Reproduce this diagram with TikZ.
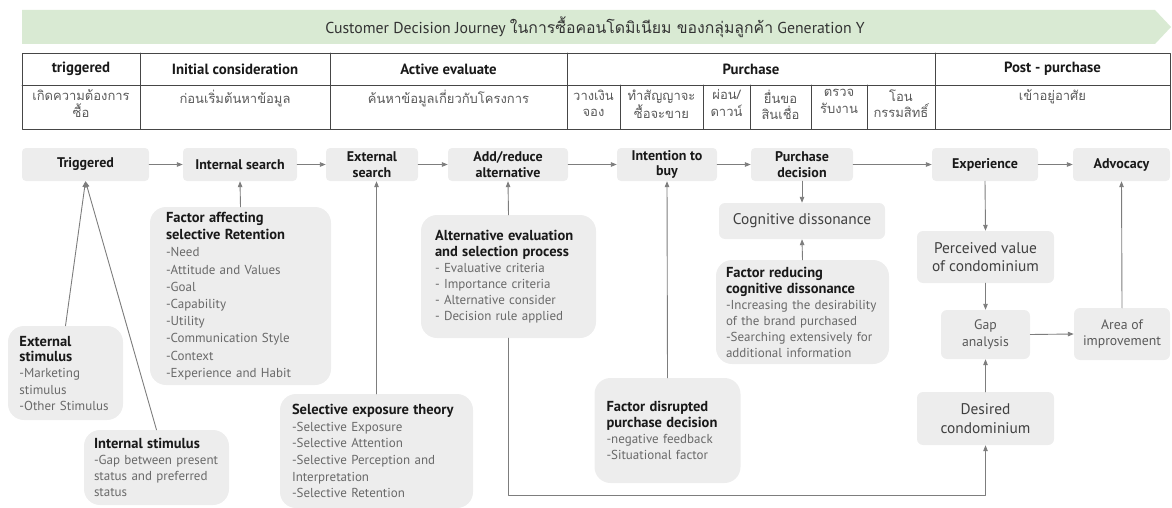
\documentclass[tikz,border=0pt]{standalone}
\usepackage{fontspec}
\setmainfont{PT Sans}
\newfontfamily\thaifont[Script=Thai]{Loma}
\usetikzlibrary{arrows.meta}
\definecolor{bannergreen}{RGB}{217,234,211}
\definecolor{boxgray}{RGB}{237,237,237}
\definecolor{linkgray}{RGB}{125,125,125}
\definecolor{itemgray}{RGB}{105,105,105}
\definecolor{titleblack}{RGB}{25,25,25}
\definecolor{gridgray}{RGB}{70,70,70}
\newcommand{\ttl}[1]{{\fontsize{14.5}{17}\selectfont\bfseries\color{titleblack}#1}}

\begin{document}
\begin{tikzpicture}[x=1pt,y=-1pt,line cap=round,line join=round,
  every node/.style={inner sep=0pt},
  flowbox/.style={fill=boxgray,rounded corners=4pt,minimum height=33pt,align=center,
    font=\fontsize{14}{15.5}\selectfont\bfseries,text=titleblack},
  infobox/.style={fill=boxgray,rounded corners=16pt,align=left,inner xsep=14pt,
    font=\fontsize{13}{16}\selectfont,text=itemgray},
  plainbox/.style={fill=boxgray,rounded corners=6pt,align=center,
    font=\fontsize{15.4}{18.5}\selectfont,text=black!75},
  smallbox/.style={plainbox,font=\fontsize{13.75}{16.5}\selectfont,text=black!65},
  link/.style={draw=linkgray,line width=0.9pt,-{Triangle[length=6pt,width=4.5pt]}},
  head/.style={font=\fontsize{14.8}{16}\selectfont\bfseries,text=titleblack},
  thai/.style={font=\thaifont\fontsize{13}{16.5}\selectfont,text=black!65,align=center,anchor=north}]
  % Banner, phase table, then the journey row with its factor boxes below.
  \useasboundingbox (0,0) rectangle (1172,508);
  \fill[bannergreen] (22,10) -- (1155,10) -- (1171,27) -- (1155,44) -- (22,44) -- cycle;
  \node[font=\fontsize{15.8}{18}\selectfont,text=black!80] (title) at (595,27)
    {Customer Decision Journey {\thaifont ในการซื้อคอนโดมิเนียม ของกลุ่มลูกค้า} Generation Y};

  \draw[gridgray,line width=0.8pt] (22,53) rectangle (1170,129) (22,85) -- (1170,85);
  \foreach \x in {140,330,567,935} \draw[gridgray,line width=0.8pt] (\x,53) -- (\x,129);
  \foreach \x in {620,703,750,811,867} \draw[gridgray,line width=0.8pt] (\x,85) -- (\x,129);
  \node[head] (ph1) at (81,69) {triggered};
  \node[head] (ph2) at (235,69) {Initial consideration};
  \node[head] (ph3) at (448.5,69) {Active evaluate};
  \node[head] (ph4) at (751,69) {Purchase};
  \node[head] (ph5) at (1052.5,69) {Post - purchase};
  \node[thai] (th1) at (81,89.5) {เกิดความต้องการ\\ซื้อ};
  \node[thai] (th2) at (235,89.5) {ก่อนเริ่มต้นหาข้อมูล};
  \node[thai] (th3) at (448.5,89.5) {ค้นหาข้อมูลเกี่ยวกับโครงการ};
  \node[thai] (th4a) at (593.5,89.5) {วางเงิน\\จอง};
  \node[thai] (th4b) at (661.5,89.5) {ทำสัญญาจะ\\ซื้อจะขาย};
  \node[thai] (th4c) at (726.5,89.5) {ผ่อน/\\ดาวน์};
  \node[thai] (th4d) at (780.5,89.5) {ยื่นขอ\\สินเชื่อ};
  \node[thai] (th4e) at (839,89.5) {ตรวจ\\รับงาน};
  \node[thai] (th4f) at (901,89.5) {โอน\\กรรมสิทธิ์};
  \node[thai] (th5) at (1052.5,89.5) {เข้าอยู่อาศัย};

  % journey row
  \node[flowbox,minimum width=127pt] (trig) at (85.5,164.5) {Triggered};
  \node[flowbox,minimum width=114pt] (intsearch) at (240,164.5) {Internal search};
  \node[flowbox,minimum width=92pt] (extsearch) at (372,164.5) {External\\search};
  \node[flowbox,minimum width=120pt] (addalt) at (508,164.5) {Add/reduce\\alternative};
  \node[flowbox,minimum width=100pt] (intent) at (667,164.5) {Intention to\\buy};
  \node[flowbox,minimum width=102pt] (purdec) at (802,164.5) {Purchase\\decision};
  \node[flowbox,minimum width=106pt] (exper) at (985,164.5) {Experience};
  \node[flowbox,minimum width=97pt] (advoc) at (1121.5,164.5) {Advocacy};
  \foreach \a/\b in {trig/intsearch,intsearch/extsearch,extsearch/addalt,addalt/intent,
    intent/purdec,purdec/exper,exper/advoc}
    \draw[link] (\a) -- (\b);

  % factor boxes
  \node[infobox,inner xsep=16pt,text width=149pt,minimum height=178pt,
    font=\fontsize{13}{17.2}\selectfont] (factret) at (240.5,296)
    {\ttl{Factor affecting}\\\ttl{selective Retention}\\-Need\\-Attitude and Values\\-Goal\\
     -Capability\\-Utility\\-Communication Style\\-Context\\-Experience and Habit};
  \node[infobox,inner xsep=11.5pt,text width=92pt,minimum height=94pt] (extstim) at (65.5,373)
    {\ttl{External}\\\ttl{stimulus}\\-Marketing\\stimulus\\-Other Stimulus};
  \node[infobox,inner xsep=10pt,text width=125pt,minimum height=75pt] (intstim) at (156.5,467.5)
    {\ttl{Internal stimulus}\\-Gap between present\\status and preferred\\status};
  \node[infobox,inner xsep=12pt,text width=169pt,minimum height=114pt,font=\fontsize{13}{16.7}\selectfont]
    (selexp) at (376.5,451)
    {\ttl{Selective exposure theory}\\-Selective Exposure\\-Selective Attention\\
     -Selective Perception and\\Interpretation\\-Selective Retention};
  \node[infobox,text width=147pt,minimum height=123pt] (alteval) at (508.5,276.5)
    {\ttl{Alternative evaluation}\\\ttl{and selection process}\\- Evaluative criteria\\
     - Importance criteria\\- Alternative consider\\- Decision rule applied};
  \node[infobox,inner xsep=12pt,text width=122pt,minimum height=105pt] (factdis) at (667.5,430.5)
    {\ttl{Factor disrupted}\\\ttl{purchase decision}\\-negative feedback\\-Situational factor};
  \node[plainbox,minimum width=166pt,minimum height=36pt] (cogdis) at (802,221) {Cognitive dissonance};
  \node[infobox,inner xsep=10pt,text width=153pt,minimum height=104pt] (factred) at (802.5,312)
    {\ttl{Factor reducing}\\\ttl{cognitive dissonance}\\-Increasing the desirability\\
     of the brand purchased\\-Searching extensively for\\additional information};

  % post-purchase loop
  \node[plainbox,minimum width=137pt,minimum height=52pt] (percv) at (985.5,257)
    {Perceived value\\of condominium};
  \node[smallbox,minimum width=89pt,minimum height=49pt] (gap) at (985.5,334.5) {Gap\\analysis};
  \node[smallbox,minimum width=96pt,minimum height=52pt] (area) at (1122,334) {Area of\\improvement};
  \node[plainbox,minimum width=137pt,minimum height=53pt] (desired) at (985.5,418.5)
    {Desired\\condominium};
  \coordinate (loopcorner) at (508.5,495);

  \draw[link] (extstim.north) -- (trig.south);
  \draw[link] (intstim.north) -- (trig.south);
  \draw[link] (factret.north) -- (intsearch.south);
  \draw[link] (selexp.north) -- (selexp.north |- extsearch.south);
  \draw[link] (alteval.north) -- (addalt.south);
  \draw[link] (factdis.north) -- (intent.south);
  \draw[link] (purdec.south) -- (cogdis.north);
  \draw[link] (factred.north) -- (cogdis.south);
  \draw[link] (exper.south) -- (percv.north);
  \draw[link] (percv.south) -- (gap.north);
  \draw[link] (desired.north) -- (gap.south);
  \draw[link] (gap.east) -- (area.west);
  \draw[link] (area.north) -- (advoc.south);
  \draw[link] (alteval.south) -- (loopcorner) -| (desired.south);
\end{tikzpicture}
\end{document}
